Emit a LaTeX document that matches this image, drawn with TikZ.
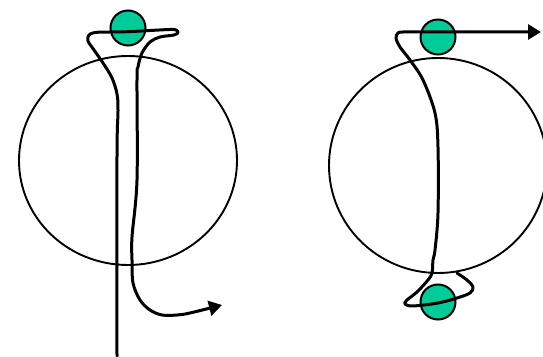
\documentclass[tikz,border=0pt]{standalone}
\usepackage{tikz}
\usetikzlibrary{
  arrows.meta,
  shapes.geometric
}
\definecolor{ballgreen}{RGB}{0,204,153}

\begin{document}
\begin{tikzpicture}[x=1pt, y=1pt,
            sphere/.style={ellipse, draw=black, line width=1.9pt, inner sep=0pt, outer sep=0pt, minimum width=218pt},
            ball/.style={circle, draw=black, fill=ballgreen, line width=2pt, inner sep=0pt, minimum size=35pt},
            strand/.style={line width=3pt, line cap=round, line join=round},
            tip/.style={-{Triangle[length=13pt, width=15pt]}}]
            \useasboundingbox (0,0) rectangle (543,356);
            % spheres and balls
            \node [sphere, minimum height=209pt] (leftsphere) at (128,195.5) {};
            \node [sphere, minimum height=215pt] (rightsphere) at (438,190.5) {};
            \node [ball] (lefttop) at (128,328) {};
            \node [ball] (righttop) at (438,319) {};
            \node [ball] (rightbottom) at (438,54) {};
            % left strand
            \draw [strand, tip] plot [smooth, tension=0.55] coordinates {
              (117,0) (117,200) (118,245) (117,262) (112,278) (103,293) (94,306) (88,315) (89,321) (95,323.5)
              (110,324) (128,324.3) (150,325.5) (170,326.5) (176,326) (178,323.5) (174,321) (160,319) (150,314)
              (142,303) (138,289) (137,276) (137,176) (132,119) (132,96) (133,73) (140,56) (150,46) (162,41)
              (177,41) (190,43) (222,51)};
            % right strand
            \draw [strand, tip] plot [smooth, tension=0.55] coordinates {
              (457,83) (467,76) (473,69) (470,63) (457,58) (438,53) (413,50) (405,52) (407,56) (417,64)
              (428,76) (432,83) (433,96) (435,106) (438,143) (438,209) (435,243) (423,276) (410,296) (400,309)
              (396,318) (398,323) (403,324) (420,324) (480,324) (541,324)};
        \end{tikzpicture}
\end{document}
